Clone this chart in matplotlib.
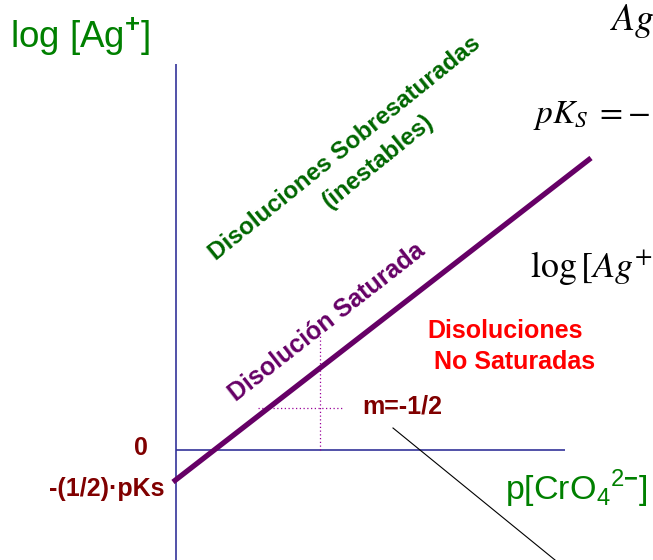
import matplotlib as mpl
from matplotlib import pyplot as plt

mpl.rcParams['mathtext.fontset'] = 'custom'
mpl.rcParams['mathtext.rm'] = 'Liberation Sans'
mpl.rcParams['mathtext.bf'] = 'Liberation Sans:bold'

# chart units: x = p[CrO4 2-], y = log[Ag+]
axis_x = [0.0, 3.89]
axis_y = [-1.10, 3.86]

# saturated solution line (slope drawn as on the slide)
sat_x = [-0.03, 4.15]
sat_y = [-0.32, 2.92]

# dotted guide lines
guide_h_x = [0.82, 1.68]
guide_h_y = [0.42, 0.42]
guide_v_x = [1.44, 1.44]
guide_v_y = [0.0, 1.20]

# pointer line
pointer_x = [2.17, 3.79]
pointer_y = [0.22, -1.10]

x_lim = (-1.76, 4.77)
y_lim = (-1.10, 4.50)


def at(px, py):
    # slide pixel -> chart units
    return (px - 176) / 100, (450 - py) / 100


fig = plt.figure(figsize=(6.53, 5.60), dpi=100)
ax = fig.add_axes([0, 0, 1, 1])
ax.set_xlim(*x_lim)
ax.set_ylim(*y_lim)
ax.axis('off')

navy = '#333399'
purple = '#660066'
dred = '#800000'

ax.plot(axis_x, [0, 0], color=navy, lw=1.2, solid_capstyle='butt')
ax.plot([0, 0], axis_y, color=navy, lw=1.2, solid_capstyle='butt')
ax.plot(guide_h_x, guide_h_y, color='#990099', lw=0.9, linestyle=(0, (1, 2)))
ax.plot(guide_v_x, guide_v_y, color='#990099', lw=0.9, linestyle=(0, (1, 2)))
ax.plot(sat_x, sat_y, color=purple, lw=3.8, solid_capstyle='butt')
ax.plot(pointer_x, pointer_y, color='black', lw=0.8)

sans = 'Liberation Sans'

ax.text(*at(10, 48), r'log [Ag$^{\mathbf{+}}$]', color='#008000', fontsize=26.5,
        family=sans, math_fontfamily='custom', va='baseline')
ax.text(*at(505, 500), r'p[CrO$_4$$^{2\mathbf{-}}$]', color='#008000', fontsize=24.5,
        family=sans, math_fontfamily='custom', va='baseline')

ax.text(*at(148, 455), '0', color=dred, fontsize=18, weight='bold', family=sans,
        ha='right', va='baseline')
ax.text(*at(165, 496), '-(1/2)·pKs', color=dred, fontsize=18, weight='bold', family=sans,
        ha='right', va='baseline')
ax.text(*at(362, 414), 'm=-1/2', color=dred, fontsize=18, weight='bold', family=sans,
        va='baseline')

ax.text(*at(505, 338), 'Disoluciones', color='red', fontsize=18, weight='bold', family=sans,
        ha='center', va='baseline')
ax.text(*at(515, 369), 'No Saturadas', color='red', fontsize=18, weight='bold', family=sans,
        ha='center', va='baseline')

ax.text(*at(327, 322), 'Disolución Saturada', color=purple, fontsize=18, weight='bold',
        family=sans, rotation=38, rotation_mode='anchor', ha='center', va='center')
ax.text(*at(345, 148), 'Disoluciones Sobresaturadas', color='#006600', fontsize=17.5,
        weight='bold', family=sans, rotation=39, rotation_mode='anchor', ha='center', va='center')
ax.text(*at(378, 161), '(inestables)', color='#006600', fontsize=17.5,
        weight='bold', family=sans, rotation=39, rotation_mode='anchor', ha='center', va='center')

# equations cut off at the right edge of the slide
ax.text(*at(610, 30), r'$Ag$', fontsize=27, math_fontfamily='stix', va='baseline')
ax.text(*at(533, 123), r'$pK_S\;=\!-$', fontsize=24, math_fontfamily='stix', va='baseline')
ax.text(*at(530, 278), r'$\log\left[Ag^{+}\right.$', fontsize=26, math_fontfamily='stix',
        va='baseline')

fig.savefig('out.png', dpi=100)
